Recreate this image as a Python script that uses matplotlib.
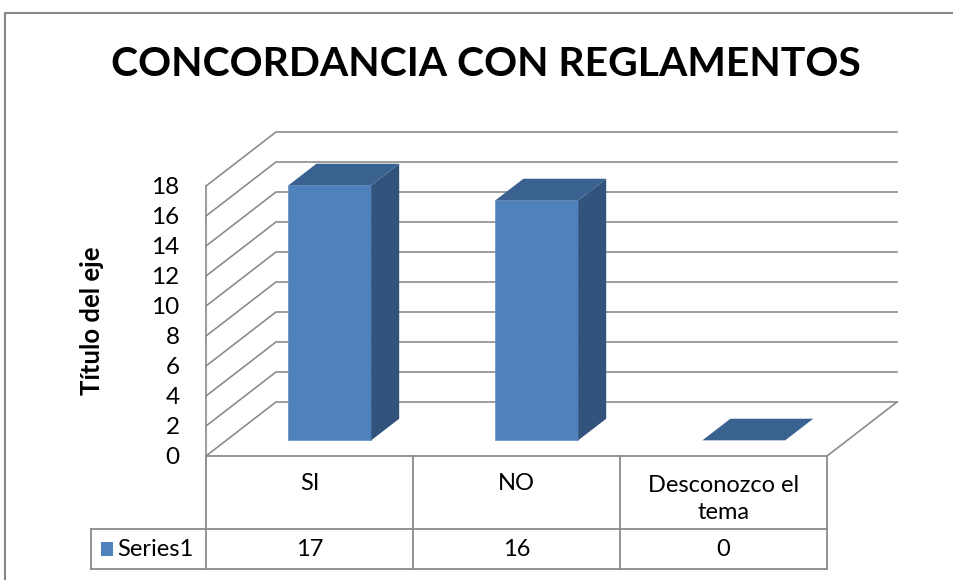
import matplotlib
matplotlib.use("Agg")
import matplotlib.pyplot as plt
from matplotlib.patches import Polygon, Rectangle
from matplotlib.lines import Line2D

# --- datos ---
categorias = ["SI", "NO", "Desconozco el\ntema"]
valores = [17, 16, 0]
serie = "Series1"
ticks_y = list(range(0, 19, 2))
titulo = "CONCORDANCIA CON REGLAMENTOS"
titulo_eje = "Título del eje"

# --- estilo ---
FRONT = "#4F81BD"; SIDE = "#32537C"; TOP = "#3A6290"
GRID = "#8C8C8C"; TABLA = "#8A8A8A"; MARCO = "#878787"
FUENTE = ["Lato", "DejaVu Sans"]
plt.rcParams["font.family"] = FUENTE

W, H = 954, 580
fig = plt.figure(figsize=(W / 100, H / 100), dpi=100)
fig.patch.set_facecolor("white")

# profundidad oblicua (en unidades de datos)
DX, DY = 0.338, 3.6
F1, F2 = 0.29, 0.69
YMAX = 18

# ejes: x 0..3 = categorias, y 0..18 = valores (plano frontal)
x0, x1 = 206, 897
y0, y1 = 456, 132
ax = fig.add_axes([x0 / W, 1 - y0 / H, (x1 - x0) / W, (y0 - y1) / H])
ax.set_xlim(0, len(categorias) + DX)
ax.set_ylim(0, YMAX + DY)
for s in ax.spines.values():
    s.set_visible(False)
ax.set_xticks([])
ax.set_yticks(ticks_y)
ax.tick_params(axis="y", length=0, pad=19, labelsize=17.5, labelcolor="black")
ax.set_ylabel(titulo_eje, fontsize=18.5, fontweight="bold")
ax.yaxis.set_label_coords(-0.147, 9 / (YMAX + DY))


def proj(x, v, f):
    return (x + f * DX, v + f * DY)


n = len(categorias)
# rejilla: pared lateral izquierda + pared trasera
for v in ticks_y:
    a = proj(0, v, 0); b = proj(0, v, 1); c = proj(n, v, 1)
    ax.plot([a[0], b[0], c[0]], [a[1], b[1], c[1]], color=GRID, lw=1.2,
            clip_on=False, zorder=1, solid_joinstyle="miter")
# suelo: borde derecho
a = proj(n, 0, 0); b = proj(n, 0, 1)
ax.plot([a[0], b[0]], [a[1], b[1]], color=GRID, lw=1.2, clip_on=False, zorder=1)
# eje vertical frontal
ax.plot([0, 0], [0, YMAX], color=GRID, lw=1.2, clip_on=False, zorder=1)

# barras 3D
for i, h in enumerate(valores):
    xa, xb = i + 0.3, i + 0.7
    if h > 0:
        ax.add_patch(Polygon([proj(xa, 0, F1), proj(xb, 0, F1), proj(xb, h, F1), proj(xa, h, F1)],
                             closed=True, facecolor=FRONT, edgecolor="#6E96C8", lw=0.6,
                             zorder=3, clip_on=False))
        ax.add_patch(Polygon([proj(xb, 0, F1), proj(xb, 0, F2), proj(xb, h, F2), proj(xb, h, F1)],
                             closed=True, facecolor=SIDE, edgecolor="none",
                             zorder=3, clip_on=False))
    ax.add_patch(Polygon([proj(xa, h, F1), proj(xb, h, F1), proj(xb, h, F2), proj(xa, h, F2)],
                         closed=True, facecolor=TOP, edgecolor="none",
                         zorder=3, clip_on=False))

# tabla de datos
ROW1, ROW2 = -4.85, -7.55
KEY_X = -0.555
lw_t = 1.3
ax.plot([0, n], [0, 0], color=TABLA, lw=lw_t, clip_on=False, zorder=2)
ax.plot([KEY_X, n], [ROW1, ROW1], color=TABLA, lw=lw_t, clip_on=False, zorder=2)
ax.plot([KEY_X, n], [ROW2, ROW2], color=TABLA, lw=lw_t, clip_on=False, zorder=2)
for k in range(n + 1):
    ax.plot([k, k], [0, ROW2], color=TABLA, lw=lw_t, clip_on=False, zorder=2)
ax.plot([KEY_X, KEY_X], [ROW1, ROW2], color=TABLA, lw=lw_t, clip_on=False, zorder=2)

fila_val = (ROW1 + ROW2) / 2
for i, (cat, v) in enumerate(zip(categorias, valores)):
    yc = -1.8 if "\n" not in cat else -2.85
    ax.text(i + 0.5, yc, cat, ha="center", va="center", fontsize=17,
            linespacing=1.35, clip_on=False)
    ax.text(i + 0.5, fila_val, str(v), ha="center", va="center", fontsize=17, clip_on=False)

ax.add_patch(Rectangle((-0.507, fila_val - 0.45), 0.058, 0.9, facecolor=FRONT,
                       edgecolor="none", clip_on=False))
ax.text(-0.43, fila_val, serie, ha="left", va="center", fontsize=17, clip_on=False)

# titulo
fig.text(486 / W, 1 - 64 / H, titulo, ha="center", va="center",
         fontsize=29.4, fontweight="bold", color="black")

# marco del grafico
fig.add_artist(Line2D([5 / W, 5 / W, 1], [0, 1 - 13 / H, 1 - 13 / H],
                      color=MARCO, lw=1.5, transform=fig.transFigure))

fig.savefig("out.png", dpi=100, facecolor="white")
